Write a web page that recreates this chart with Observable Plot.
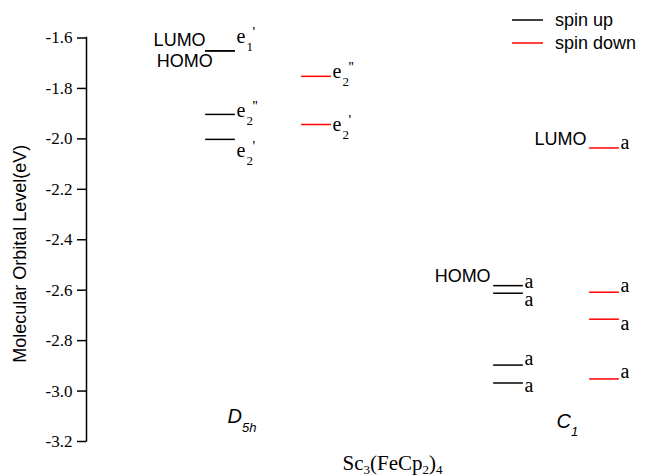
<!DOCTYPE html>
<html><head><meta charset="utf-8">
<script src="https://cdn.jsdelivr.net/npm/d3@7"></script>
<script src="https://cdn.jsdelivr.net/npm/@observablehq/plot@0.6"></script>
<style>
html,body{margin:0;padding:0;background:#fff;}
#chart{position:relative;width:645px;height:476px;}
</style></head><body><div id="chart"></div>
<script>
// ---- data ----
const columnGroup = ["D5h", "D5h", "C1", "C1"];
const columnSpin = ["up", "down", "up", "down"];
const columnPos = [1, 2, 4, 5];

const levelColumn = [0, 0, 0, 0, 1, 1, 2, 2, 2, 2, 3, 3, 3, 3];
const levelEnergy = [-1.651, -1.651, -1.903, -2.002, -1.752, -1.943, -2.582, -2.612, -2.897, -2.968, -2.036, -2.608, -2.715, -2.952];
const levelSymbol = ["e", "", "e", "e", "e", "e", "a", "a", "a", "a", "a", "a", "a", "a"];
const levelSub = ["1", "", "2", "2", "2", "2", "", "", "", "", "", "", "", ""];
const levelSup = ["'", "", "''", "'", "''", "'", "", "", "", "", "", "", "", ""];
const levelTag = ["LUMO", "HOMO", "", "", "", "", "HOMO", "", "", "", "LUMO", "", "", ""];

const yTicks = [-3.2, -3.0, -2.8, -2.6, -2.4, -2.2, -2.0, -1.8, -1.6];
const yLabel = "Molecular Orbital Level(eV)";
const legendLabels = ["spin up", "spin down"];
const spinColors = ["#000000", "#ff0000"];
const groupTitles = ["D_{5h}", "C_{1}"];
const xTitle = "Sc_{3}(FeCp_{2})_{4}";

// ---- layout (label nudges in px) ----
const labelDy = [-8, 0, 3, 18, 2, 6, 2, 13, 0, 9, 1, 0, 11, -1];
const tagDx = [0, 7, 0, 0, 0, 0, -3, 0, 0, 0, -3, 0, 0, 0];
const tagDy = [-4.5, 16.5, 0, 0, 0, 0, -3.5, 0, 0, 0, -2.5, 0, 0, 0];

const xDomain = [-0.396, 5.427];
const half = 0.155;
const serif = "Liberation Serif";
const sans = "Liberation Sans";

const levels = levelEnergy.map((e, i) => ({
  energy: e,
  col: levelColumn[i],
  spin: columnSpin[levelColumn[i]],
  pos: columnPos[levelColumn[i]],
  symbol: levelSymbol[i], sub: levelSub[i], sup: levelSup[i], tag: levelTag[i],
  i
}));

const marks = [];
marks.push(Plot.ruleX([xDomain[0]], {strokeWidth: 1.5, strokeLinecap: "square"}));
marks.push(Plot.axisY({ticks: yTicks, tickSize: 9, tickFormat: () => "", strokeWidth: 1.5, label: null}));
marks.push(Plot.text(yTicks, {x: xDomain[0], y: d => d, text: d => d.toFixed(1), textAnchor: "end",
  lineAnchor: "middle", dx: -14, fontSize: 17, fontFamily: serif, fill: "black"}));
marks.push(Plot.text([yLabel], {text: d => d, frameAnchor: "left", rotate: -90, dx: -66, dy: 14,
  fontSize: 18, fontFamily: sans, textAnchor: "middle", fill: "black"}));
marks.push(Plot.ruleY(levels, {y: "energy", x1: d => d.pos - half, x2: d => d.pos + half,
  stroke: "spin", strokeWidth: 1.5}));

levels.forEach(d => {
  if (d.symbol) {
    marks.push(Plot.text([d], {x: d => d.pos + half, y: "energy", text: "symbol", textAnchor: "start",
      lineAnchor: "bottom", dx: 1, dy: labelDy[d.i], fontSize: 20, fontFamily: serif, fill: "black"}));
  }
  if (d.sub) {
    marks.push(Plot.text([d], {x: d => d.pos + half, y: "energy", text: "sub", textAnchor: "start",
      lineAnchor: "bottom", dx: 11, dy: labelDy[d.i] + 8, fontSize: 13, fontFamily: serif, fill: "black"}));
  }
  if (d.sup) {
    marks.push(Plot.text([d], {x: d => d.pos + half, y: "energy", text: "sup", textAnchor: "start",
      lineAnchor: "bottom", dx: 17, dy: labelDy[d.i] - 6, fontSize: 15, fontFamily: serif, fill: "black"}));
  }
  if (d.tag) {
    marks.push(Plot.text([d], {x: d => d.pos - half, y: "energy", text: "tag", textAnchor: "end",
      lineAnchor: "bottom", dx: tagDx[d.i], dy: tagDy[d.i], fontSize: 18, fontFamily: sans, fill: "black"}));
  }
});

// group titles and x title
marks.push(Plot.text([groupTitles[0]], {text: d => d, frameAnchor: "top-left", textAnchor: "start", lineAnchor: "bottom",
  dx: 141, dy: 384.5, fontSize: 20, fontFamily: sans, fontStyle: "italic", fill: "black"}));
marks.push(Plot.text([groupTitles[1]], {text: d => d, frameAnchor: "top-left", textAnchor: "start", lineAnchor: "bottom",
  dx: 470, dy: 389.5, fontSize: 20, fontFamily: sans, fontStyle: "italic", fill: "black"}));
marks.push(Plot.text([xTitle], {text: d => d, frameAnchor: "top-left", textAnchor: "start", lineAnchor: "bottom",
  dx: 256, dy: 432, fontSize: 21, fontFamily: serif, fill: "black"}));

const plot = Plot.plot({
  width: 645, height: 476,
  marginLeft: 86, marginRight: 0, marginTop: 37.5, marginBottom: 35,
  x: {domain: xDomain, axis: null},
  y: {domain: [-3.2, -1.6], axis: null},
  color: {domain: ["up", "down"], range: spinColors},
  style: {fontFamily: sans, background: "white", color: "black"},
  marks
});

const svg = plot.tagName.toLowerCase() === "svg" ? plot : plot.querySelector("svg");

// rich text (sub/superscripts)
const richShift = {"D_{5h}": 9, "C_{1}": 8, "Sc_{3}(FeCp_{2})_{4}": 4};
svg.querySelectorAll("text").forEach(t => {
  const s = t.textContent;
  if (!(s in richShift)) return;
  const shift = richShift[s];
  t.textContent = "";
  let cur = 0;
  const re = /_\{([^}]*)\}|\^\{([^}]*)\}|([^_^]+)/g;
  let m;
  while ((m = re.exec(s))) {
    const ts = document.createElementNS("http://www.w3.org/2000/svg", "tspan");
    let target = 0;
    if (m[1] !== undefined) { target = shift; ts.setAttribute("font-size", "13"); ts.textContent = m[1]; }
    else if (m[2] !== undefined) { target = -shift; ts.setAttribute("font-size", "13"); ts.textContent = m[2]; }
    else { ts.textContent = m[3]; }
    if (target !== cur) ts.setAttribute("dy", target - cur);
    cur = target;
    t.appendChild(ts);
  }
});

// legend
const lg = d3.select(svg).append("g").attr("text-anchor", "start");
legendLabels.forEach((label, i) => {
  const y = 20 + 23 * i;
  lg.append("line").attr("x1", 512).attr("x2", 543).attr("y1", y).attr("y2", y)
    .attr("stroke", spinColors[i]).attr("stroke-width", 1.5);
  lg.append("text").attr("x", 555).attr("y", y + 6).attr("font-size", 18)
    .attr("text-anchor", "start")
    .attr("font-family", sans).attr("fill", "black").text(label);
});

document.getElementById("chart").appendChild(plot);
</script></body></html>
